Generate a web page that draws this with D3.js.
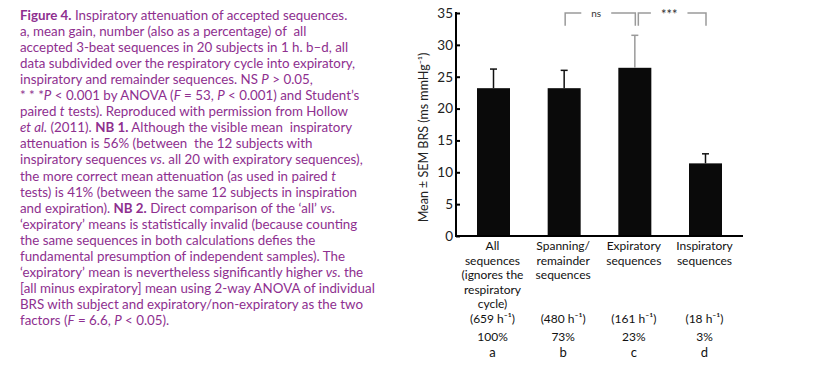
<!DOCTYPE html>
<html>
<head>
<meta charset="utf-8">
<script src="https://cdn.jsdelivr.net/npm/d3@7"></script>
<style>
  html, body { margin: 0; padding: 0; background: #fff; }
  svg { display: block; }
  text { font-family: "Lato", "Open Sans", sans-serif; }
</style>
</head>
<body>
<svg id="chart" width="831" height="365"></svg>
<script>
// ---------- data ----------
const categories = ["all", "spanning", "expiratory", "inspiratory"];
const categoryLabels = [
  ["All", "sequences", "(ignores the", "respiratory", "cycle)"],
  ["Spanning/", "remainder", "sequences"],
  ["Expiratory", "sequences"],
  ["Inspiratory", "sequences"]
];
const means = [23.2, 23.2, 26.4, 11.4];
const sems = [3.0, 2.8, 5.1, 1.5];
const rates = ["(659 h\u207B\u00B9)", "(480 h\u207B\u00B9)", "(161 h\u207B\u00B9)", "(18 h\u207B\u00B9)"];
const percents = ["100%", "73%", "23%", "3%"];
const letters = ["a", "b", "c", "d"];
const yTicks = [0, 5, 10, 15, 20, 25, 30, 35];
const yLabel = "Mean \u00B1 SEM BRS (ms mmHg\u207B\u00B9)";
const captionLines = [
  "**Figure 4.** Inspiratory attenuation of accepted sequences.",
  "a, mean gain, number (also as a percentage) of  all",
  "accepted 3-beat sequences in 20 subjects in 1 h. b\u2013d, all",
  "data subdivided over the respiratory cycle into expiratory,",
  "inspiratory and remainder sequences. NS _P_ > 0.05,",
  "* * *_P_ < 0.001 by ANOVA (_F_ = 53, _P_ < 0.001) and Student\u2019s",
  "paired _t_ tests). Reproduced with permission from Hollow",
  "_et al._ (2011). **NB 1.** Although the visible mean  inspiratory",
  "attenuation is 56% (between  the 12 subjects with",
  "inspiratory sequences _vs_. all 20 with expiratory sequences),",
  "the more correct mean attenuation (as used in paired _t_",
  "tests) is 41% (between the same 12 subjects in inspiration",
  "and expiration). **NB 2.** Direct comparison of the \u2018all\u2019 _vs_.",
  "\u2018expiratory\u2019 means is statistically invalid (because counting",
  "the same sequences in both calculations defies the",
  "fundamental presumption of independent samples). The",
  "\u2018expiratory\u2019 mean is nevertheless significantly higher _vs_. the",
  "[all minus expiratory] mean using 2-way ANOVA of individual",
  "BRS with subject and expiratory/non-expiratory as the two",
  "factors (_F_ = 6.6, _P_ < 0.05)."
];
const significance = [
  { from: "spanning", to: "expiratory", label: "ns" },
  { from: "expiratory", to: "inspiratory", label: "***" }
];

// ---------- layout ----------
const svg = d3.select("#chart");
const purple = "#8e2f8f";

// caption
const cap = svg.append("g").attr("fill", purple);
const capX = 20, capY0 = 20, capLH = 16.05;
function addLine(sel, str) {
  const parts = str.split(/(\*\*[^*]+\*\*|_[^_]+_)/).filter(s => s.length);
  parts.forEach(p => {
    const t = sel.append("tspan");
    if (p.startsWith("**")) t.attr("font-weight", 700).text(p.slice(2, -2));
    else if (p.startsWith("_") && p.endsWith("_") && p.length > 2) t.attr("font-style", "italic").text(p.slice(1, -1));
    else t.text(p);
  });
}
const capTexts = captionLines.map((l, i) => {
  const t = cap.append("text")
    .attr("x", capX).attr("y", capY0 + i * capLH)
    .attr("font-size", 14)
    .style("white-space", "pre");
  addLine(t, l);
  return t;
});
// fit caption font to reference width of the longest line
const longest = d3.max(capTexts, t => t.node().getComputedTextLength());
const capFs = 14 * 355 / longest;
capTexts.forEach(t => t.attr("font-size", capFs));

// chart scales
const x = d3.scalePoint().domain(categories).range([493.5, 705.5]);
const barW = 33;
const y = d3.scaleLinear().domain([0, 35]).range([236, 13]);

const g = svg.append("g");

// bars
g.selectAll("rect.bar").data(categories).join("rect")
  .attr("class", "bar")
  .attr("x", d => x(d) - barW / 2)
  .attr("width", barW)
  .attr("y", (d, i) => y(means[i]))
  .attr("height", (d, i) => y(0) - y(means[i]))
  .attr("fill", "#0a0a0a");

// error bars
const errColor = (i) => i === 2 ? "#9a9a9a" : "#111";
categories.forEach((c, i) => {
  const cx = x(c);
  g.append("line")
    .attr("x1", cx).attr("x2", cx)
    .attr("y1", y(means[i])).attr("y2", y(means[i] + sems[i]))
    .attr("stroke", errColor(i)).attr("stroke-width", 1.5);
  g.append("line")
    .attr("x1", cx - 3.5).attr("x2", cx + 3.5)
    .attr("y1", y(means[i] + sems[i])).attr("y2", y(means[i] + sems[i]))
    .attr("stroke", errColor(i)).attr("stroke-width", 1.5);
});

// y axis
const axisX = 456;
const yAxis = d3.axisRight(y).tickValues(yTicks).tickSize(4).tickFormat(d3.format("d"));
const ya = g.append("g").attr("transform", `translate(${axisX},0)`).call(yAxis);
ya.select(".domain").remove();
ya.selectAll(".tick line").attr("stroke", "#000").attr("stroke-width", 2);
ya.selectAll(".tick text")
  .attr("x", -3).attr("text-anchor", "end")
  .attr("font-size", 13.5).attr("fill", "#222")
  .attr("font-family", "Lato, 'Open Sans', sans-serif");
g.append("line")
  .attr("x1", axisX).attr("x2", axisX)
  .attr("y1", y(35) - 1).attr("y2", y(0) + 1)
  .attr("stroke", "#000").attr("stroke-width", 2);
// x axis baseline
g.append("line")
  .attr("x1", axisX - 1).attr("x2", 743)
  .attr("y1", y(0)).attr("y2", y(0))
  .attr("stroke", "#000").attr("stroke-width", 2);

// y label
g.append("text")
  .attr("transform", `translate(428, ${(y(0) + y(35)) / 2 + 13}) rotate(-90)`)
  .attr("text-anchor", "middle")
  .attr("font-size", 12.5).attr("fill", "#222")
  .text(yLabel);

// category labels
const lblFs = 12, lblLH = 14.5;
categories.forEach((c, i) => {
  const cx = x(c) - 1;
  const t = g.append("text").attr("text-anchor", "middle").attr("font-size", lblFs).attr("fill", "#111");
  categoryLabels[i].forEach((ln, j) => {
    t.append("tspan").attr("x", cx).attr("y", 250 + j * lblLH).text(ln);
  });
  g.append("text").attr("x", cx).attr("y", 323).attr("text-anchor", "middle")
    .attr("font-size", lblFs).attr("fill", "#111").text(rates[i]);
  g.append("text").attr("x", cx).attr("y", 341).attr("text-anchor", "middle")
    .attr("font-size", lblFs).attr("fill", "#111").text(percents[i]);
  g.append("text").attr("x", cx).attr("y", 357).attr("text-anchor", "middle")
    .attr("font-size", lblFs + 1).attr("fill", "#111").text(letters[i]);
});

// significance brackets
const grey = "#9a9a9a";
const topY = y(35), dropY = y(33);
significance.forEach((s, k) => {
  const x1 = x(s.from) + (k === 1 ? 3.5 : 1);
  const x2 = x(s.to) + 0.5;
  g.append("path")
    .attr("d", `M${x1},${dropY}V${topY}H${x2}V${dropY}`)
    .attr("fill", "none").attr("stroke", grey).attr("stroke-width", 1.5);
  const mx = (x1 + x2) / 2 - (k === 0 ? 4 : 3);
  const txt = g.append("text").attr("x", mx).attr("y", k === 0 ? topY + 3.5 : topY + 6)
    .attr("text-anchor", "middle").attr("font-size", k === 0 ? 10 : 13).attr("fill", "#333")
    .text(s.label);
  const bb = txt.node().getBBox();
  g.insert("rect", () => txt.node())
    .attr("x", mx - bb.width / 2 - 10).attr("width", bb.width + 20)
    .attr("y", topY - 2).attr("height", 4).attr("fill", "#fff");
});
</script>
</body>
</html>
